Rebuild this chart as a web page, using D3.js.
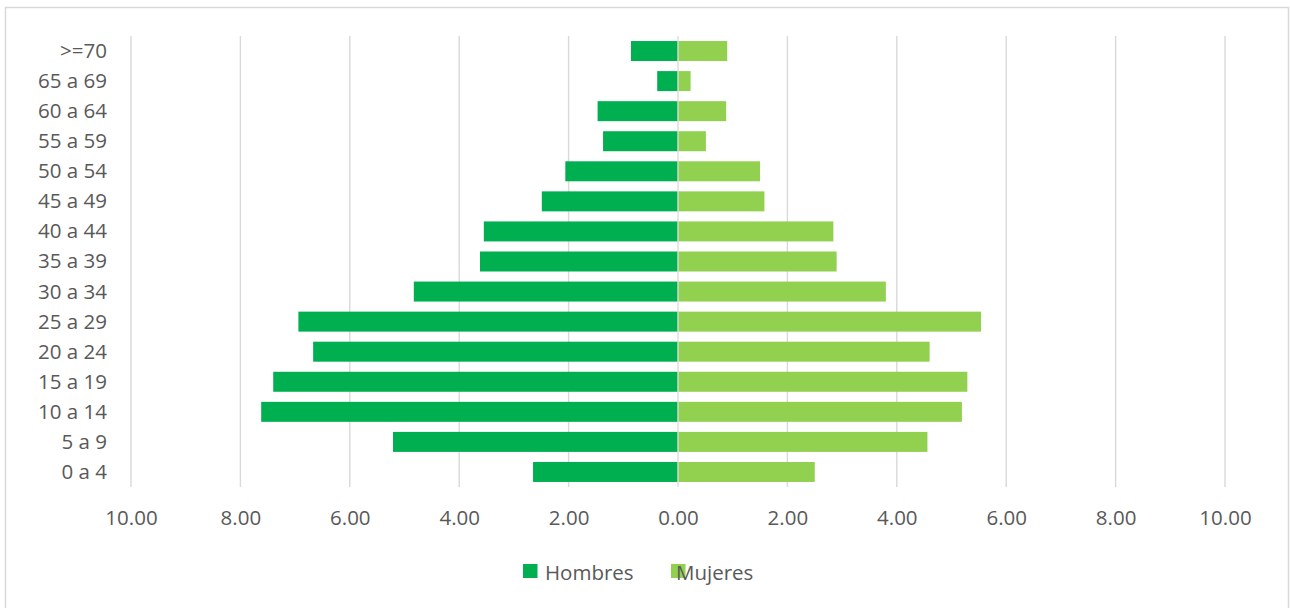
<!DOCTYPE html>
<html>
<head>
<meta charset="utf-8">
<script src="https://cdn.jsdelivr.net/npm/d3@7"></script>
<style>
  html, body { margin: 0; padding: 0; background: #ffffff; }
  svg { display: block; }
  text { font-family: "Open Sans", "Noto Sans", sans-serif; fill: #595959; }
</style>
</head>
<body>
<svg id="chart" width="1290" height="608"></svg>
<script>
// Age groups, top to bottom
const ageGroups = [">=70", "65 a 69", "60 a 64", "55 a 59", "50 a 54", "45 a 49", "40 a 44",
  "35 a 39", "30 a 34", "25 a 29", "20 a 24", "15 a 19", "10 a 14", "5 a 9", "0 a 4"];

// Percent of population per age group
const hombres = [0.86, 0.38, 1.47, 1.37, 2.06, 2.49, 3.55, 3.62, 4.83, 6.94, 6.67, 7.40, 7.62, 5.21, 2.65];
const mujeres = [0.90, 0.23, 0.88, 0.51, 1.50, 1.58, 2.84, 2.90, 3.80, 5.54, 4.60, 5.29, 5.19, 4.56, 2.50];

const tickValues = [-10, -8, -6, -4, -2, 0, 2, 4, 6, 8, 10];
const seriesNames = ["Hombres", "Mujeres"];
const colors = { Hombres: "#00B050", Mujeres: "#92D050" };

const svg = d3.select("#chart");

// chart frame
svg.append("rect")
  .attr("x", 5.5).attr("y", 7.5)
  .attr("width", 1283).attr("height", 610)
  .attr("fill", "#ffffff")
  .attr("stroke", "#d9d9d9").attr("stroke-width", 1.5);

const x = d3.scaleLinear().domain([-10, 10]).range([131, 1225]);
const y = d3.scaleBand().domain(ageGroups).range([36, 487])
  .paddingInner(0.335).paddingOuter(0.1675);

// vertical gridlines
svg.append("g").selectAll("line")
  .data(tickValues.filter(v => v !== 0))
  .join("line")
  .attr("x1", d => x(d)).attr("x2", d => x(d))
  .attr("y1", 36).attr("y2", 487)
  .attr("stroke", "#d9d9d9").attr("stroke-width", 1.4);

// bars: men to the left, women to the right
svg.append("g").selectAll("rect")
  .data(ageGroups.map((g, i) => ({ g, v: hombres[i] })))
  .join("rect")
  .attr("x", d => x(-d.v)).attr("width", d => x(0) - x(-d.v))
  .attr("y", d => y(d.g)).attr("height", y.bandwidth())
  .attr("fill", colors.Hombres);

svg.append("g").selectAll("rect")
  .data(ageGroups.map((g, i) => ({ g, v: mujeres[i] })))
  .join("rect")
  .attr("x", x(0)).attr("width", d => x(d.v) - x(0))
  .attr("y", d => y(d.g)).attr("height", y.bandwidth())
  .attr("fill", colors.Mujeres);

// zero line drawn over the bars
svg.append("line")
  .attr("x1", x(0)).attr("x2", x(0))
  .attr("y1", 36).attr("y2", 487)
  .attr("stroke", "#dcdcdc").attr("stroke-width", 1.4);

// x axis labels (absolute values)
const xAxis = d3.axisBottom(x).tickValues(tickValues)
  .tickFormat(d => Math.abs(d).toFixed(2)).tickSize(0).tickPadding(0);
const gx = svg.append("g").attr("transform", "translate(0,510)").call(xAxis);
gx.select(".domain").remove();
gx.selectAll("text")
  .attr("dy", "0.71em").attr("y", 0)
  .style("font-size", "20.5px").attr("fill", "#595959");

// y axis labels
const yAxis = d3.axisLeft(y).tickSize(0).tickPadding(0);
const gy = svg.append("g").attr("transform", "translate(107,0)").call(yAxis);
gy.select(".domain").remove();
gy.selectAll("text")
  .style("font-size", "20.5px").attr("fill", "#595959")
  .attr("dy", "0.34em");

// legend
const legendPos = { Hombres: { sx: 523, tx: 545 }, Mujeres: { sx: 671, tx: 676 } };
const legend = svg.append("g");
seriesNames.forEach(name => {
  legend.append("rect")
    .attr("x", legendPos[name].sx).attr("y", 564)
    .attr("width", 14.5).attr("height", 14)
    .attr("fill", colors[name]);
  legend.append("text")
    .attr("x", legendPos[name].tx).attr("y", 573)
    .attr("dy", "0.34em")
    .style("font-size", "20.5px")
    .text(name);
});
</script>
</body>
</html>
